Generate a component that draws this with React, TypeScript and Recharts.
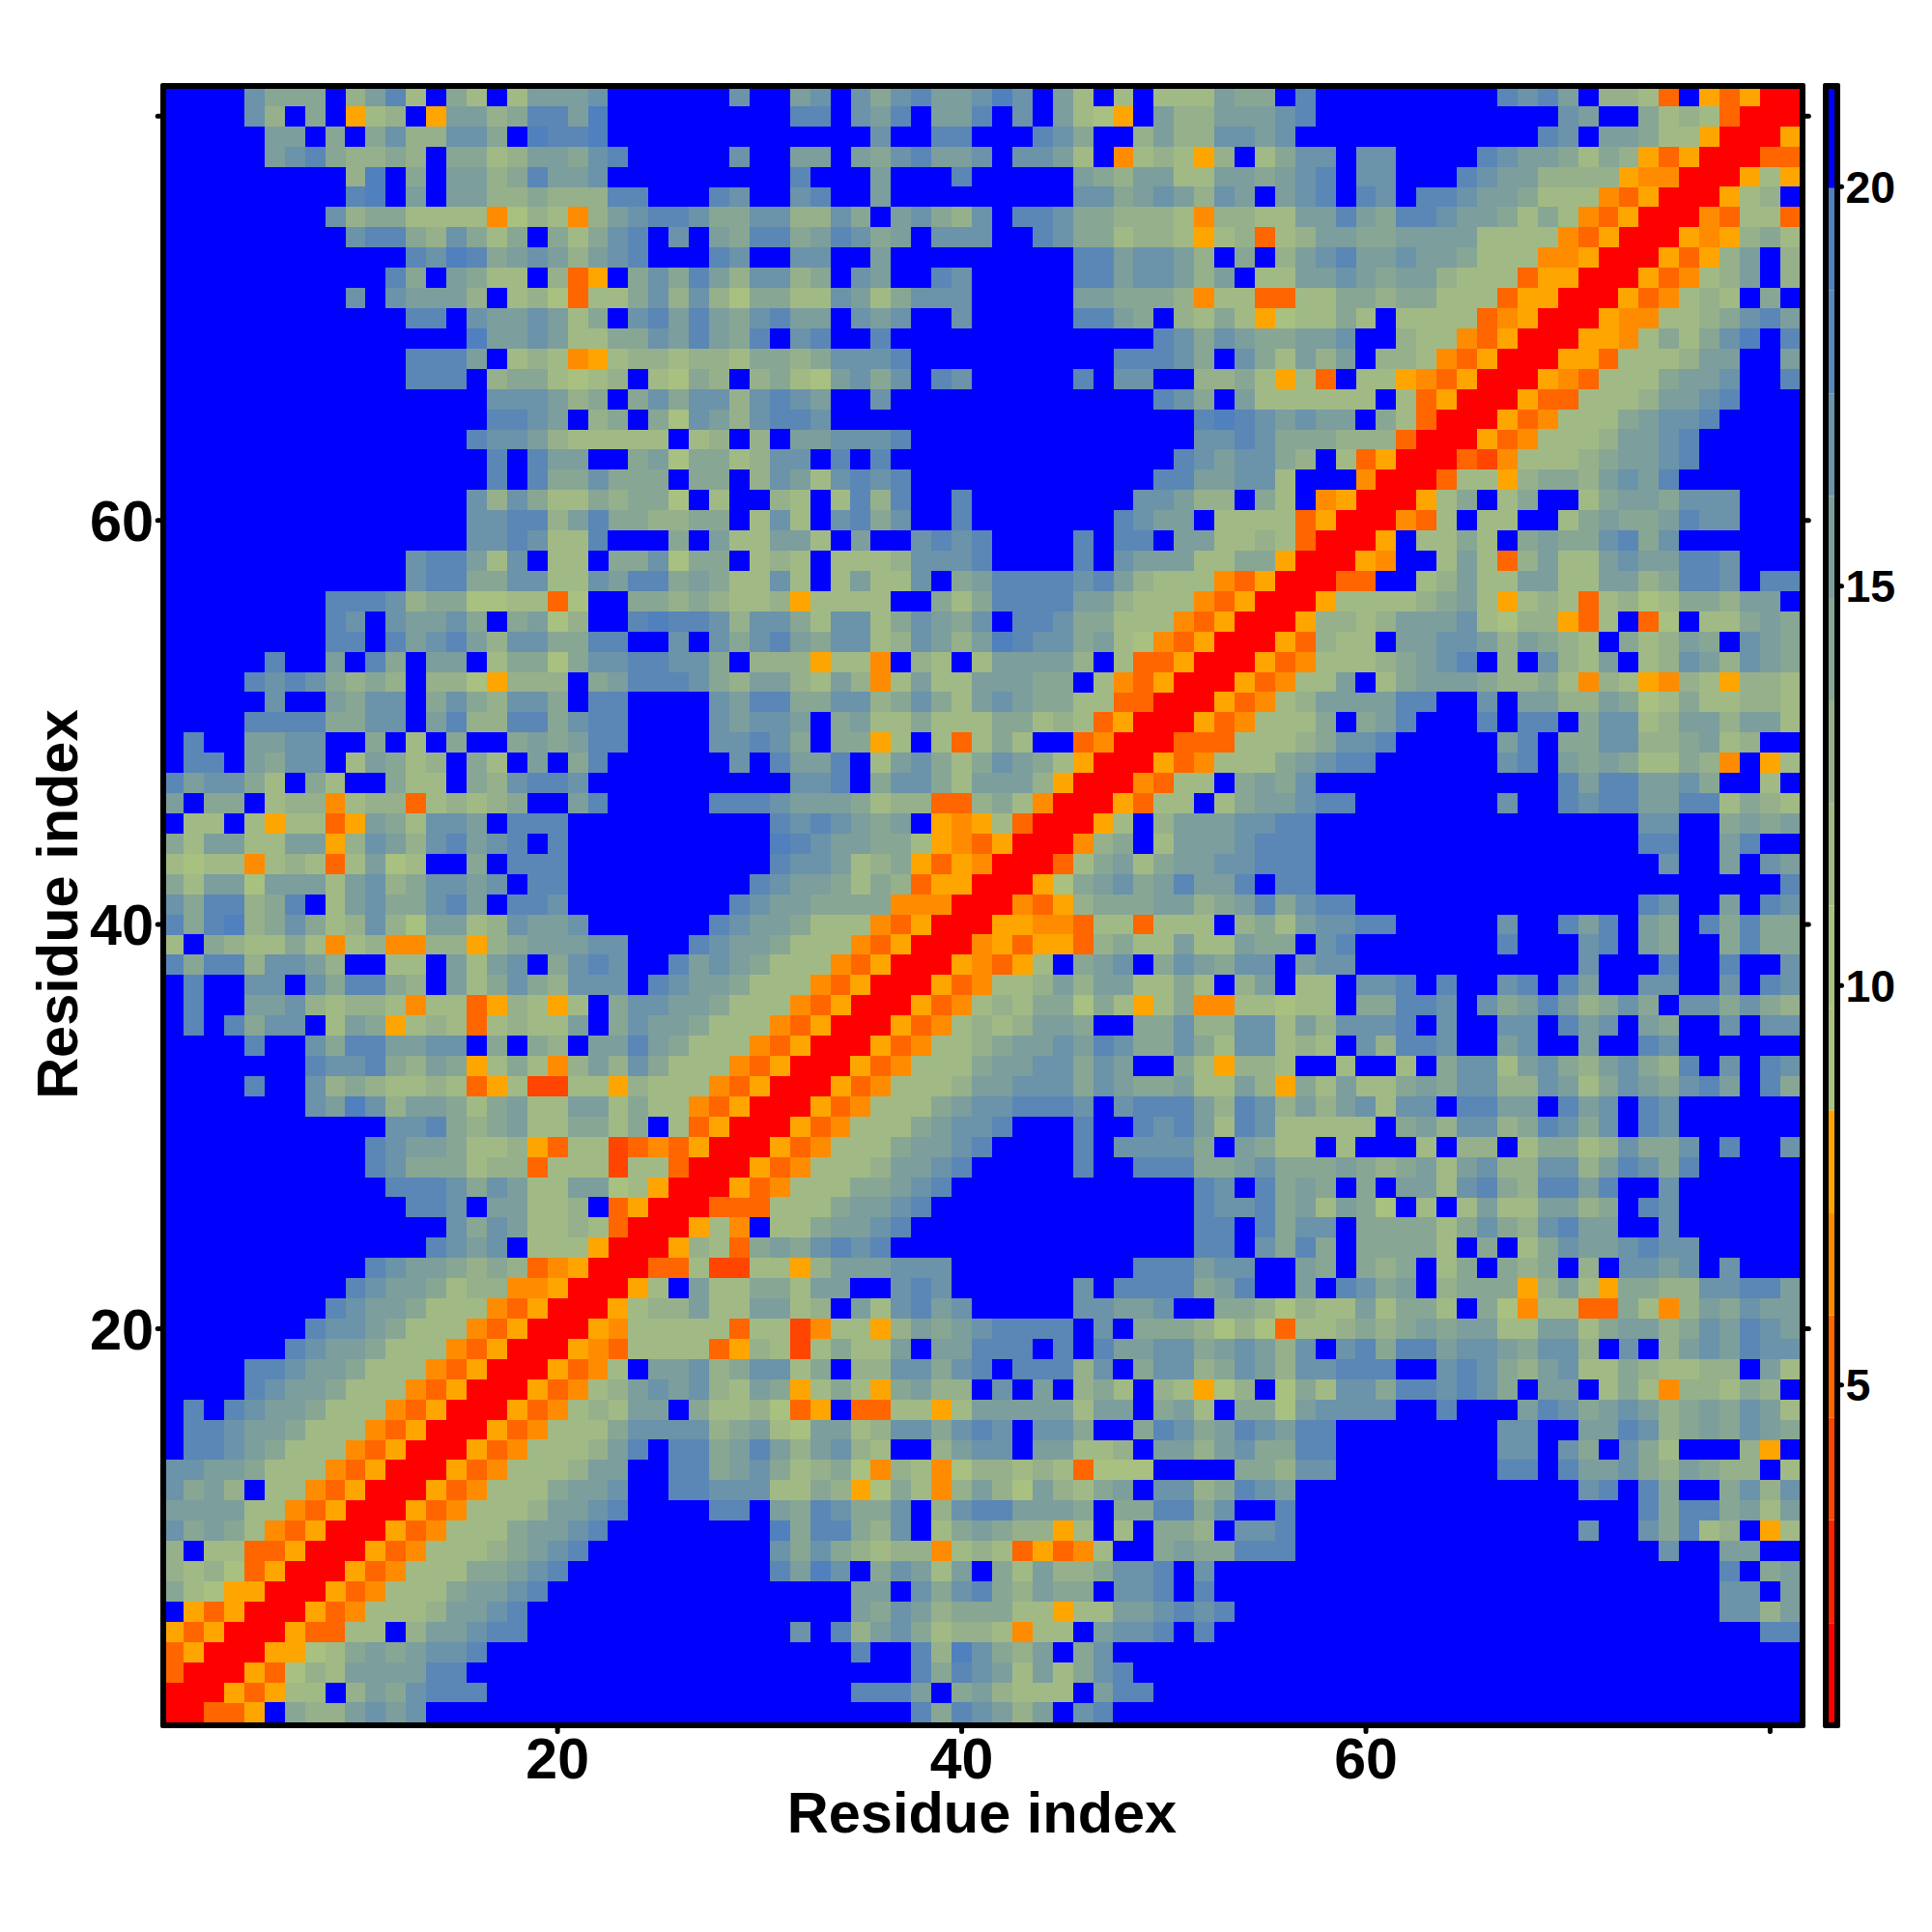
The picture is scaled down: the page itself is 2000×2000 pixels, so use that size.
import React from 'react';
import { BarChart, Bar, ScatterChart, Scatter, XAxis, YAxis } from 'recharts';

// each letter is one colour bin of the distance map, hex index into levelColors (F = beyond cutoff)
const levelColors = [
  '#ff0000', '#ff2200', '#ff4500', '#ff6600', '#ff8c00', '#ffa500',
  '#a9c17f', '#a8c080', '#a1ba85', '#96b08b', '#88a694', '#7c9e9d', '#6b93a9', '#5a87b6', '#5080bd',
  '#0000ff',
];

const colorBreaks = [0.74, 2.02, 3.31, 4.59, 5.87, 7.15, 8.44, 9.72, 11.0, 12.28, 13.57, 14.85, 16.13, 17.41, 18.7, 19.98, 21.26];
const colorTicks = [5, 10, 15, 20];
const residueTicks = [20, 40, 60, 80];

// rows run from residue 81 (top) down to residue 1, split in three column blocks
const cols1to26 = [
  'FFFFcaaaF9bd8Fa8F8bbbcFFFF', 'FFFFc9FaF589F5bb9addbeFFFF', 'FFFFFbbFaFac99ccaFeddeFFFF', 'FFFFFbcda99a9Faa89bbacdFFF',
  'FFFFFFFFF9eFaFbb9adbbcFFFF', 'FFFFFFFFFdeFbFbb99a999ddFF', 'FFFFFFFFc9aa8888479849bcdd', 'FFFFFFFFFcdda9ca8aFa8acdFc',
  'FFFFFFFFFFFFdcedabcb9bcdFF', 'FFFFFFFFFFFdaFba88F935Faca', 'FFFFFFFFFcFcbbb9F897388ac9', 'FFFFFFFFFFFFddFcbbcb8aFcdb',
  'FFFFFFFFFFFFFFFebbcb88aacb', 'FFFFFFFFFFFFdddbF898458998', 'FFFFFFFFFFFFdddF9aa8789F87', 'FFFFFFFFFFFFFFFFcccb9aFaca',
  'FFFFFFFFFFFFFFFFddcbF9aFa7', 'FFFFFFFFFFFFFFFdccb988888F', 'FFFFFFFFFFFFFFFFdFdbbFFab7', 'FFFFFFFFFFFFFFFFdFdaacaaaF',
  'FFFFFFFFFFFFFFFc9ca88a9aa7', 'FFFFFFFFFFFFFFFccdd9bdaa99', 'FFFFFFFFFFFFFFFccdc88dFFFa', 'FFFFFFFFFFFFcddb8cF88Faac7',
  'FFFFFFFFFFFFcddaacc88cbdda', 'FFFFFFFFdddc9aa778837FFaa9', 'FFFFFFFFdcFcbbcaFab79FFded', 'FFFFFFFFddFdbcdb9ccaaddFFc',
  'FFFFFdFFbFdaFbbF8aa7accddc', 'FFFFdcdca9a9F9975999Fabddd', 'FFFFFcFFbaccFaca9ccaFddFFF', 'FFFFddddaaccFbd99ddacddFFF',
  'FdFFbbccFFaF8FaFFababddFFF', 'FddFbaccF8ba89Fa8FbFadFFFF', 'dbcca8Fa8FFa88Fa9cddcFFFFF', 'bFaaF899489938989aFFbdFFFF',
  'F88F858835ba8ccbFdddFFFFFF', 'a8bb88bb59cb9cdbcdFdFFFFFF', '8788489838b78FFaFdddFFFFFF', 'a8bb7bbb8bc9accbcFddFFFFFF',
  'cadd9adF8bcaacdbFddcFFFFFF', 'dade9aca89c97bb89cbbcFFFFF', '8Fa988a8489449959abbbccFFF', 'dadd9ccb9FF88Fb8bcFacdcFFd',
  'FdFFccFcadda9Fb8aca9cccFdc', 'FdFFbbc98998488359858Faccb', 'FdFdaccF8ba589838988bFacbb', 'FFFFdFFcaddbbccFaFa9Fbbdba',
  'FFFFFFFdccda9ba58a849b9ca8', 'FFFFdFFc9a9889835822885988', 'FFFFFFFcbec9bba8ab88bb8a88', 'FFFFFFFFFFFccda9ab88aa8aF8',
  'FFFFFFFFFFdcbba88953882343', 'FFFFFFFFFFdcaaa89938882883', 'FFFFFFFFFFFdddcacb88bb7850', 'FFFFFFFFFFFFddcFbb889F3500',
  'FFFFFFFFFFFFFFcacb88983000', 'FFFFFFFFFFFFFdcbcF88850005', 'FFFFFFFFFFdcbba9a934500033', 'FFFFFFFFFdcbba89944500058F',
  'FFFFFFFFdcbba8884350005899', 'FFFFFFFdccba88843500054888', 'FFFFFFdcbba888435000543888', 'FFFFddcbba8884350005348Fbb',
  'FFFFdcbba88843500053489bcb', 'FdFdcbba888435000534898bbF', 'Fddcbba888435000534888accc', 'Fddcba8884350005348889bdFd',
  'ccbba8884350005348889bbFFd', 'cab9F88435000534888abbcFFd', 'bbbb884350005348889bbcdFFF', 'caba8435000534888abbcdFFFF',
  '9F883350005348889abcdFFFFF', '989735000534888aabcdFFFFFF', 'a8755000534888abbcdFFFFFFF', 'F5350005348889bbcdFFFFFFFF',
  '53500053388F9bbcddFFFFFFFF', '350005578ababccdFFFFFFFFFF', '300053798bbbbddFFFFFFFFFFF', '00053588F9bacdddFFFFFFFFFF',
  '00335Fa99bcbcFFFFFFFFFFFFF',
];

const cols27to53 = [
  'FFcFFbcFcacdbbcecFb8F8F888b', 'FFFFFddFcbdFbbdFcFb875Fb99b', 'FFFFFFFFFcFFddFFFdcaFF9b99c', 'FFcFFbbFbacdbbcFccb8F489859',
  'FFFFFdFFFbFFFdFFFFFba9bb88b', 'FdcFFcdFFbFFFFFFFFFccabcb9c', 'caacc99caFbca9cFddcaa999849', 'FbaddabdcabFcccFFdcaa899858',
  'FdcFFccFFbFFFFFFFFFddbccb9F', 'db9cc9aFcbFFdcFFFFFddbccb9b', 'c97aa88cb8acccFFFFFbbaaa948', 'dbacdbbFcbcFFcFFFFFddbaF98a',
  'dbadFcdFFdFFFFFFFFFFFFFdcac', '998aa9acccdFFFFFFFFFFdddcaF', 'a9F9a87bcacFdcFFFFFdFccFF99', 'cc9cdcbFFcFFFFFFFFFFFFFdcaF',
  'cb9cddcFFFFFFFFFFFFFFFFFFde', '89F9FbbcccdFFFFFFFFFFFFFFcc', 'aa89ccFdFdFFFFFFFFFFFFFFdcb', 'aaF9cb8cdcdFFFFFFFFFFFFddbb',
  'F8FF98F8d9dFFdFFFFFFFFccb99', 'aaF8c8FcdacFFdFFFFFFFdcbbF8', 'Fb88bb8FbFFcdcdFFFFdFddFbb8', 'aaF898F8889cccdFFFFdFcbbb88',
  'ba88c8F8b88cFabddddcdb98884', 'a988958888FFa8addddbb988843', 'dc9cca8cc8acbacFddcaa888435', 'Fcacdbacc89cb9bedccab874350',
  'caF9995884F98F8bbbb9F833500', 'ca9bb98b948b88bbbaaF8435000', 'Fcbddaacc9aca8bcbaa88330005', 'FcbccbFab88a888aa8983500053',
  'FccdcaFaa58F838a8FF34000333', 'FFcFdbbdF8bca8acba850005348', 'FFFFFccdFacca8bbb950004388F', 'Fdddcbbba899339a840005388F8',
  'FFFFdcdcbabF5458300058F9bbb', 'FFFFedcbbaa8543500049aF8bbb', 'FFFFdccb89a535400038ab8abbc', 'FFFdcbba8a935500057abcabdbb',
  'FFdcbbaaaa4440004359aaabb9a', 'Fdcbba88843500055443883888F', 'dcbba8884350004535539a88b88', 'bcba88843500054358FabcFacba',
  'bba888435000534889b9bb88a8F', 'ba888435000534898aa7a858a44', 'a8884350005348989bbaFFaac99', '888435000534889abbcbdcaaca8',
  '88435000534888abbccacbFFa85', '84350005348889bbcccacbaab88', '435000534888abccdddcFcdddb9', '35000534888abccdFFFdFFdcdb8',
  '5000534888abbcdFFFFdFccccaF', '0005348889bbcdFFFFFdFFdddaa', '00534888aabcdFFFFFFFFFFFFdc', '0333888abbcdFFFFFFFFFFFFFdc',
  '584F88abbcdFFFFFFFFFFFFFFdd', '983abacdcdFFFFFFFFFFFFFFFdd', '8228859bbbcccFFFFFFFFFdddbc', 'b88aa8bbFFcdcFFFFFFcFddddab',
  'b88bb89Fb8cdbcFFFFFccbbcFFa', '88388248859babcddddFcFaaa97', '8359828a88bFbbdddFdFdbbccab', 'c9acc8aF99ccacdFddd9cFacc9a',
  'c98ba58a85ab99FcFbF9a8F9857', 'a889735F338858bbbbb8bbFab8F', 'c9ab87bb89ccacdcFccaFFadcab', 'dabdb9bc98FF9bccFbb889Fbb9b',
  'dabca89a749847998983777FFFF', 'dccc88a957a849b97b98abFcc9a', 'FddFbadcaacF9cddbbbaFaaddac', 'FFFFeadda9cF8aba9958F8Faa9F',
  'FFFFcaca9899489835348FFabaa', 'FFFFdbecFacb8bFa8b99accdFcF', 'FFFFFFFFbbFcacda9baaFccdFdF', 'FFFFFFFFbacb9aaa88588bbcdcd',
  'FFFFFcFd9bca8998488FbccdFdF', 'FFFFFFFFdFFd9eca9bFacFFFFFF', 'FFFFFFFFFFFdadcb8b8acdFFFFF', 'FFFFFFFFdddbFab9888FbddFFFF',
  'FFFFFFFFFFFdadcb9bFcdFFFFFF',
];

const cols54to81 = [
  'aaFdFFFFFFFFFdcdbF9983F53500', 'bbcdFFFFFFFFFFFFcbFFa8983000', 'cbcFFFFFFFFFFFFdcFbba8850005', 'F8accFccFFFFdcbba8a953500033',
  'babcdFccFFFdcbb9999544000585', 'bFbcdFdcFddcbba888435000589F', '988bbdbaddcbba8a843500043883', '9389bbaabbbb88884350005459a8',
  'aF9bcdbbcbba8884450005359bF9', 'F88bbcbabb988835500053489bF9', '83388aa9aa888355000534898FaF', '85788a8F8888345000544889acdb',
  'baabbcFF9884350005548a8aceFd', 'ca8b9bF9984350005538889bbFFb', 'a8583F885435000543888abbcFFd', 'b888888F8350005338889bbcdFFF',
  'dcbcbbFa83000534888abccdFFFF', 'dcaaa99930005348889bbcdFFFFF', 'cca9F8350003248889abbcdFFFFF', 'cc8FFF400038859aa9bcbdFFFFFF',
  'Fa8F4500058aF8aFF8abbacccFFF', '88835000438F88FF8abaabdccFFF', '89830005F88a8FabaacdacFFFFFF', 'aa500054FF8b839b88bcbbddcFFF',
  '3500033FF89b88bb88bb9addcFdd', '5000588889ab8589838978aa9bbF', '00059989bbbc8799538F37F88aba', '0053988Fbbccb9ba98Fa89baFcba',
  '05348889abcdF9Fc98bF89cb9cba', '53488bF8abbba99a849854985998', '3489bbbbddFFcFbb99ba78a88998', '4888aFabdFFFdFddFacc89bb9bb8',
  '8889accdFFFFFbdFaacc99ab89FF', '88abcddFFFFFFcdFbaba88a94F58', 'abacFFFFFFFFFFFFdbddbbcaFF8F', 'abbcddFFFFFFFcFFdcddbbdd8a98',
  'ccddFFFFFFFFFFFFFFFFccFFabab', 'cdddFFFFFFFFFFFFFFFFddFFbdFF', 'cdddFFFFFFFFFFFFFFFFFcFFbFcb', 'dFddFFFFFFFFFFFFFFFFFFFFFFFd',
  'bdacddFFFFFFFFFFFFFFdcFFbFdc', '9a8bccddFFFFFcFFdbdFbaFdadaa', 'baaFcdFFFFFFFdFFFcdFbaFFadaa', 'ccFbccFFFFFFFFFFFcFFFdFFdFFc',
  '9bF88FccdFdFFcdFdbFFccFFcFdc', '88788FaaddcFcabdb9acaFccaca9', 'cc8b9cccdFcFFccFdbcFbaFFcFcc', 'cc898Fc9ddcFFbcFFbFFdcFFFFFF',
  '998FF8FF8Facc8bca9bca9dFcFdc', 'b95a8b88abacc99cb8acbacdbFda', 'dc9b9bc8ccFddbbFdbcFdcFFFFFF', 'dc88888Fab9cc9adcacFdcFFFFFF',
  'ba88F8FFF8F99F8aa89caacFdFFc', 'bcaaaba9ab8bc99cc9bdcadFFFFF', 'FdabaFaFbb8cda9ddbdFFcFFFFFF', 'cdab8ba7F8F8b88bb9aFdcFFFFFF',
  'FdaccFaaaa8aca9cdbbFFcFFFFFF', 'FcadaFaaaa8FaF8acbbcdccFFFFF', 'cFFbaFa9aF8aFa9aF9FccbcFcFFF', 'dFFbFdcabF9aaa59b85aa99ccddb',
  'a97988b8aa8Fa748833a849bacbb', '973889a9ababb88bb8abb9acbdcb', 'cb9cFcdaddbccbacc9FcF9bcbdcc', 'cb9ccdddFFcdca9bc88a98899Fb8',
  '9F7a8ccaddcdcaFbbF8a84998a9F', 'aa7bccccFFdFFFbdcabcb9abacb8', 'dcbddFFFFFFFFccFFbbdc9abacba', 'caaddFFFFFFFFccFcaFca8FFF95F',
  'aa9ccFFFFFFFFddFdbbca9ba99F8', 'dcbFFFFFFFFFFFFFFcdFdaFFac9c', 'FFdFFFFFFFFFFFFFFFFFdaddab8b', 'ccdFFFFFFFFFFFFFFcFFcad89F58',
  'dddFFFFFFFFFFFFFFFFFFcFFbbFF', 'FFFFFFFFFFFFFFFFFFFFFFFFdFab', 'FFFFFFFFFFFFFFFFFFFFFFFFccFb', 'FFFFFFFFFFFFFFFFFFFFFFFFcc9b',
  'FFFFFFFFFFFFFFFFFFFFFFFFFFdd', 'FFFFFFFFFFFFFFFFFFFFFFFFFFFF', 'FFFFFFFFFFFFFFFFFFFFFFFFFFFF', 'FFFFFFFFFFFFFFFFFFFFFFFFFFFF',
  'FFFFFFFFFFFFFFFFFFFFFFFFFFFF',
];

const FONT = '"Liberation Sans", Arial, sans-serif';
const CELL = 21;
const tickStyle = { stroke: '#000', strokeWidth: 5, strokeLinecap: 'round' as const };

const cellsByLevel: { x: number; y: number }[][] = levelColors.map(() => []);
cols1to26.forEach((left, k) => {
  const row = left + cols27to53[k] + cols54to81[k];
  for (let c = 0; c < row.length; c++) {
    cellsByLevel[parseInt(row[c], 16)].push({ x: c + 1, y: 81 - k });
  }
});

const segmentKeys = levelColors.map((_, i) => `s${i}`);
const barRow: Record<string, number | string> = { name: 'distance' };
levelColors.forEach((_, i) => {
  barRow[`s${i}`] = colorBreaks[i + 1] - (i === 0 ? 0 : colorBreaks[i]);
});

const CellShape = (props: any) => (
  <rect
    x={props.cx - CELL / 2}
    y={props.cy - CELL / 2}
    width={CELL}
    height={CELL}
    fill={props.fill}
    shapeRendering="crispEdges"
  />
);

const Frame = ({ left, width }: { left: number; width: number }) => (
  <div
    style={{
      position: 'absolute',
      left,
      top: 86,
      width,
      height: 1703,
      boxSizing: 'border-box',
      border: '6px solid #000',
      borderRadius: 2,
      pointerEvents: 'none',
    }}
  />
);

const hide80 = (v: number) => (v === 80 ? '' : String(v));

export default function App() {
  return (
    <div style={{ position: 'absolute', left: 0, top: 0, width: 2000, height: 2000, background: '#fff' }}>
      <ScatterChart
        width={2000}
        height={2000}
        margin={{ left: 69.2, top: 78.9, right: 126.2, bottom: 96.6 }}
        style={{ position: 'absolute', left: 0, top: 0 }}
      >
        <XAxis
          xAxisId="bottom"
          type="number"
          dataKey="x"
          domain={[0.5, 81.5]}
          allowDataOverflow
          ticks={residueTicks}
          interval={0}
          height={120}
          axisLine={false}
          tickLine={tickStyle}
          tickSize={9}
          tickMargin={7}
          tickFormatter={hide80}
          tick={{ fill: '#000', fontFamily: FONT, fontWeight: 700, fontSize: 59 }}
          label={{
            value: 'Residue index',
            position: 'insideBottom',
            offset: 6,
            style: { fill: '#000', fontFamily: FONT, fontWeight: 700, fontSize: 59.5 },
          }}
        />
        <XAxis
          xAxisId="top"
          orientation="top"
          type="number"
          domain={[0.5, 81.5]}
          allowDataOverflow
          ticks={residueTicks}
          interval={0}
          height={10}
          axisLine={false}
          tickLine={tickStyle}
          tickSize={6}
          tickFormatter={() => ''}
        />
        <YAxis
          yAxisId="left"
          type="number"
          dataKey="y"
          domain={[0.5, 81.5]}
          allowDataOverflow
          ticks={residueTicks}
          interval={0}
          width={100}
          axisLine={false}
          tickLine={tickStyle}
          tickSize={6}
          tickMargin={4}
          tickFormatter={hide80}
          tick={{ fill: '#000', fontFamily: FONT, fontWeight: 700, fontSize: 59.5 }}
          label={{
            value: 'Residue index',
            angle: -90,
            position: 'insideLeft',
            offset: -10,
            style: { fill: '#000', fontFamily: FONT, fontWeight: 700, fontSize: 59.5, textAnchor: 'middle' },
          }}
        />
        <YAxis
          yAxisId="right"
          orientation="right"
          type="number"
          domain={[0.5, 81.5]}
          allowDataOverflow
          ticks={residueTicks}
          interval={0}
          width={10}
          axisLine={false}
          tickLine={tickStyle}
          tickSize={8.5}
          tickFormatter={() => ''}
        />
        {levelColors.map((color, i) => (
          <Scatter
            key={color}
            xAxisId="bottom"
            yAxisId="left"
            data={cellsByLevel[i]}
            fill={color}
            shape={CellShape}
            isAnimationActive={false}
          />
        ))}
      </ScatterChart>
      <Frame left={166} width={1703} />

      <BarChart
        width={200}
        height={2000}
        data={[barRow]}
        barCategoryGap={0}
        margin={{ left: 89.5, top: 89, right: 0, bottom: 214 }}
        style={{ position: 'absolute', left: 1800, top: 0 }}
      >
        <XAxis dataKey="name" hide />
        <YAxis
          orientation="right"
          type="number"
          domain={[colorBreaks[0], colorBreaks[colorBreaks.length - 1]]}
          allowDataOverflow
          ticks={colorTicks}
          interval={0}
          width={98.5}
          axisLine={false}
          tickLine={tickStyle}
          tickSize={5}
          tickMargin={4}
          tick={{ fill: '#000', fontFamily: FONT, fontWeight: 700, fontSize: 46.5 }}
        />
        {segmentKeys.map((key, i) => (
          <Bar key={key} dataKey={key} stackId="scale" fill={levelColors[i]} isAnimationActive={false} />
        ))}
      </BarChart>
      <Frame left={1886.5} width={18} />
    </div>
  );
}
